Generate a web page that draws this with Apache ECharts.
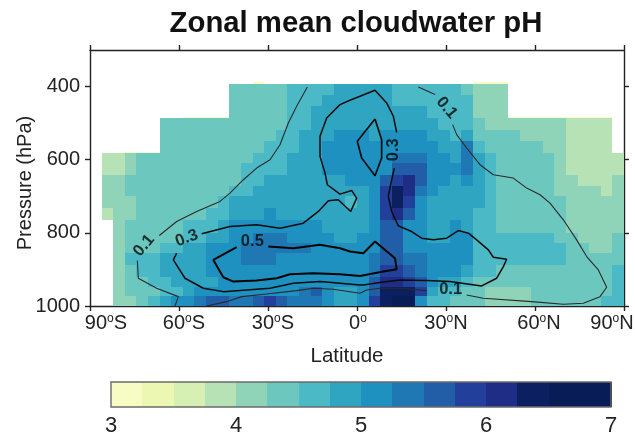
<!DOCTYPE html>
<html>
<head>
<meta charset="utf-8">
<style>html,body{margin:0;padding:0;background:#fff}#c{width:635px;height:441px;filter:blur(0.4px)}</style>
<script src="https://cdn.jsdelivr.net/npm/echarts@6/dist/echarts.min.js"></script>
</head>
<body>
<div id="c"></div>
<script>
const FONT = '"Liberation Sans", Arial, sans-serif';
const colorLevels = ['#f7fcc4','#ecf7b2','#d6efb3','#b6e2b6','#8fd3b9','#6cc7be','#4bb9c6','#30a5c2','#1e91c0','#1f78b4','#225ea8','#233f9c','#1f2d86','#0c1f60','#081d58','#081d58'];
const colorBounds = [3,3.25,3.5,3.75,4,4.25,4.5,4.75,5,5.25,5.5,5.75,6,6.25,6.5,6.75,7];
const columnCount = 46;
const pressureEdges = [1000,974,947,920,888,856,828,801,764,732,700,673,641,609,582,550,518,486,454,422,392];
const xTicks = [-90,-60,-30,0,30,60,90];
const yTicks = [400,600,800,1000];
const barTicks = [3,4,5,6,7];
const n = null;
// zonal mean cloudwater pH, one list per latitude column, from the lowest layer upward
const phColumns = [
[],
[n,n,n,n,n,n,n,n,3.9,4.1,4.1,4.1,3.9,3.9],
[4.1,4.1,4.1,4.1,4.1,4.1,4.1,4.1,4.1,4.1,4.1,4.1,3.9,3.9],
[4.1,4.4,4.4,4.4,4.6,4.4,4.4,4.4,4.1,4.1,4.4,4.4,4.1,4.1],
[4.4,4.4,4.4,4.6,4.6,4.4,4.4,4.4,4.4,4.4,4.4,4.4,4.4,4.4],
[4.6,4.4,4.6,4.6,4.6,4.4,4.4,4.4,4.4,4.4,4.4,4.4,4.4,4.4],
[4.9,4.6,4.6,4.9,4.9,4.6,4.4,4.4,4.4,4.4,4.4,4.4,4.4,4.4,4.4,4.4,4.4],
[5.1,4.6,4.9,4.9,4.9,4.6,4.4,4.4,4.4,4.4,4.4,4.4,4.4,4.4,4.4,4.4,4.4],
[5.1,4.9,4.9,4.9,4.9,4.9,4.6,4.6,4.4,4.4,4.4,4.4,4.4,4.4,4.4,4.4,4.4],
[5.4,5.1,4.9,4.9,4.9,4.9,4.6,4.6,4.4,4.4,4.4,4.4,4.4,4.4,4.4,4.4,4.4],
[5.6,5.1,4.9,5.1,5.1,5.1,4.9,4.6,4.6,4.4,4.4,4.4,4.4,4.4,4.4,4.4,4.4],
[5.6,5.1,5.1,5.1,5.1,5.1,4.9,4.9,4.6,4.6,4.4,4.4,4.4,4.4,4.4,4.4,4.4],
[5.4,5.1,5.1,5.1,5.1,5.1,5.1,5.1,4.9,4.9,4.6,4.4,4.4,4.4,4.4,4.4,4.4,4.4,4.4,4.4],
[5.4,5.1,5.1,5.1,5.4,5.4,5.1,5.1,4.9,4.9,4.6,4.6,4.6,4.4,4.4,4.4,4.4,4.4,4.4,4.4],
[5.6,5.1,5.1,5.1,5.4,5.4,5.4,5.1,4.9,4.9,4.9,4.6,4.6,4.6,4.4,4.4,4.4,4.4,4.4,4.4],
[5.9,5.1,5.1,5.1,5.4,5.4,5.4,5.1,5.1,4.9,4.9,4.9,4.6,4.6,4.6,4.4,4.4,4.4,4.4,4.4],
[5.6,5.1,5.1,5.1,5.1,5.4,5.4,5.1,4.9,4.9,4.9,4.9,4.6,4.6,4.6,4.6,4.4,4.4,4.4,4.4],
[5.4,5.1,5.1,5.1,5.1,5.4,5.1,5.1,4.9,4.9,4.9,4.9,4.9,4.9,4.6,4.6,4.6,4.6,4.6,4.6],
[5.4,5.4,5.1,5.1,5.1,5.4,5.1,5.1,4.9,4.9,4.9,4.9,4.9,4.9,4.9,4.9,4.6,4.6,4.6,4.6],
[5.4,5.6,5.1,5.1,5.1,5.1,5.1,5.1,4.9,4.9,4.9,4.9,4.9,4.9,4.9,4.9,4.9,4.9,4.6,4.6],
[5.1,5.1,5.1,5.1,5.1,5.1,5.1,4.9,4.9,4.9,4.9,4.9,5.1,5.1,5.1,4.9,4.9,4.9,4.9,4.6],
[4.9,4.9,5.1,5.1,5.1,5.1,4.9,4.9,4.9,4.9,4.9,4.9,5.1,5.1,5.1,5.1,4.9,4.9,4.9,4.9],
[4.9,4.9,5.1,5.1,5.1,5.1,4.9,4.9,4.9,4.6,4.9,5.1,5.1,5.1,5.1,5.1,4.9,4.9,4.9,4.9],
[5.1,5.1,5.1,5.1,5.1,5.1,5.1,4.9,4.9,4.9,4.9,5.1,5.1,5.1,5.1,5.1,4.9,4.9,4.9,4.9],
[5.9,5.6,5.6,5.4,5.4,5.1,5.1,5.1,5.1,5.1,5.1,5.1,5.1,5.1,5.1,4.9,4.9,4.9,4.9,4.9],
[6.4,6.4,6.1,5.9,5.6,5.6,5.6,5.6,5.9,5.9,5.9,5.6,5.1,5.1,5.1,5.1,4.9,4.9,4.9,4.9],
[6.6,6.4,6.1,5.9,5.6,5.6,5.6,5.6,6.1,6.4,6.4,5.9,5.6,5.4,5.1,5.1,4.9,4.9,4.6,4.6],
[6.6,6.4,5.9,5.6,5.4,5.1,5.1,5.1,5.6,5.9,6.1,6.1,5.6,5.4,5.1,5.1,4.9,4.9,4.6,4.6],
[5.1,5.9,5.6,5.4,5.4,5.1,5.1,5.1,5.1,5.1,5.4,5.6,5.6,5.4,5.1,5.1,4.9,4.9,4.6,4.6],
[4.6,4.9,5.1,5.1,5.1,5.1,4.9,4.9,4.9,4.9,5.1,5.1,5.1,5.1,5.1,4.9,4.9,4.6,4.6,4.6],
[4.6,4.6,4.9,5.1,5.1,5.1,4.9,4.9,4.9,4.9,4.9,5.1,5.1,5.1,4.9,4.9,4.6,4.6,4.6,4.6],
[4.4,4.6,4.9,5.1,5.1,5.1,5.1,5.1,4.9,4.9,4.9,4.9,5.1,4.9,4.9,4.6,4.6,4.6,4.6,4.6],
[4.4,4.4,4.6,4.9,5.1,5.1,5.1,4.9,4.9,4.9,4.9,5.1,5.4,5.4,5.4,4.9,4.6,4.6,4.6,4.4],
[4.4,4.4,4.4,4.6,4.6,4.6,4.6,4.6,4.6,4.9,4.9,4.9,4.9,4.9,4.6,4.4,4.4,4.1,4.1,4.1],
[4.1,4.1,4.4,4.6,4.6,4.6,4.6,4.6,4.6,4.6,4.6,4.6,4.6,4.6,4.4,4.4,4.1,4.1,4.1,4.1],
[4.1,4.1,4.4,4.4,4.6,4.6,4.6,4.4,4.4,4.4,4.4,4.4,4.4,4.4,4.4,4.4,4.1,4.1,4.1,4.1],
[4.1,4.1,4.4,4.4,4.6,4.6,4.6,4.4,4.4,4.4,4.4,4.4,4.4,4.4,4.4,4.4,4.1],
[4.1,4.1,4.4,4.4,4.6,4.6,4.6,4.4,4.4,4.4,4.4,4.4,4.4,4.4,4.4,4.1,4.1],
[4.4,4.4,4.4,4.4,4.6,4.6,4.6,4.4,4.4,4.4,4.4,4.4,4.4,4.4,4.4,4.1,4.1],
[4.4,4.4,4.4,4.4,4.6,4.6,4.6,4.4,4.4,4.4,4.4,4.4,4.4,4.4,4.1,4.1,4.1],
[4.4,4.4,4.4,4.4,4.6,4.6,4.4,4.4,4.4,4.4,4.1,4.1,4.1,4.1,4.1,4.1,4.1],
[4.4,4.4,4.4,4.4,4.4,4.4,4.4,4.1,4.1,4.1,4.1,4.1,3.9,3.9,3.9,3.9,3.9],
[4.4,4.4,4.4,4.4,4.4,4.4,4.1,4.1,4.1,4.1,4.1,3.9,3.9,3.9,3.9,3.9,3.9],
[4.4,4.4,4.4,4.4,4.4,4.1,4.1,4.1,4.1,4.1,4.1,3.9,3.9,3.9,3.9,3.9,3.9],
[4.6,4.4,4.4,4.4,4.4,4.1,4.1,4.1,4.1,4.1,3.9,3.9,3.9,3.9,3.9,3.9,3.9],
[4.6,4.6,4.6,4.6,4.4,4.4,4.4,4.1,4.1,4.1,4.1,4.1,3.9,3.9]
];
// thin pale layers on top of some columns: [column, pH]
const paleTopCells = [[3,3.1],[4,3.1],[5,3.1],[8,3.1],[9,3.1],[10,3.1],[11,3.1],[14,3.1],[33,3.1],[34,3.1],[35,3.1],[36,3.1],[37,3.1],[38,3.1],[39,3.1],[40,3.1],[41,3.1],[42,3.1],[43,3.1],[44,3.1]];
// contour lines as [latitude, pressure] pairs
const contour01a = [[-16.74,400.9],[-20.34,453.8],[-23.15,499.5],[-25.95,558.9],[-29.32,600],[-33.82,622.8],[-38.31,654.7],[-42.81,691.3],[-46.18,714.1],[-54.04,741.5],[-60.79,768.9],[-66.63,807.3]];
const contour01b = [[-74.04,875.7],[-73.71,924.1],[-67.53,951.5],[-60.22,974.4],[-61.35,1000]];
const contour01c = [[-50.67,1000],[-43.93,988.1],[-38.88,974.4],[-30.45,967.1],[-20.34,958],[-14.72,951.5],[-7.98,954.3],[1.01,965.2],[3.26,956.1],[7.75,951.5],[14.49,951.5],[23.48,958]];
const contour01d = [[36.97,969.8],[42.58,978.9],[58.88,988.1],[69.55,995.4],[76.29,992.6],[81.91,974.4],[84.16,948.8],[81.35,901.3],[77.42,864.8],[74.04,819.1],[69.55,764.3],[65.06,718.7],[61.69,695.8],[57.19,677.6],[52.7,650.2],[45.95,641],[41.46,613.6],[36.97,568],[33.6,531.5],[32.25,504.1]];
const contour01e = [[26.29,421.9],[20.67,400.9]];
const contour03a = [[-60.79,855.6],[-61.91,873.9],[-57.98,924.1],[-51.8,951.5],[-45.06,960.7],[-37.19,956.1],[-29.32,951.5],[-21.46,937.8],[-12.47,933.3],[1.01,942.4],[2.13,942.4],[7.75,936],[14.49,928.7],[23.48,930.5],[31.35,933.3],[42.02,945.1],[47.08,924.1],[49.33,892.2],[50.45,872.1],[45.95,866.6],[44.27,846.5],[40.34,819.1],[37.53,800.9],[34.16,793.6],[30.22,814.6],[25.73,819.1],[21.8,814.6],[18.43,796.3],[13.93,780.8],[11.69,741.5],[10.56,700.4],[11.69,654.7],[12.58,622.8]];
const contour03b = [[13.37,525],[12.25,481.2],[10,444.7],[6.07,410],[-2.36,437.4],[-5.73,449.3],[-10.22,485.8],[-12.47,536],[-12.47,590.8],[-10.78,636.5],[-10,668.4],[-5.73,694],[-1.8,684],[-0.11,705],[-2.13,741.5],[-6.29,709.5],[-9.66,712.3],[-13.03,741.5],[-18.09,773.5],[-25.95,787.2],[-33.82,778],[-42.81,782.6],[-52.36,802.7]];
const contour03c = [[6.07,488.5],[0.11,549.7],[1.57,595.4],[6.07,643.8],[8.31,595.4],[8.31,545.2],[6.07,488.5]];
const contour05 = [[-40.56,839.2],[-48.43,873.9],[-45.06,921.4],[-41.68,933.3],[-33.82,930.5],[-27.08,924.1],[-22.58,913.2],[-14.72,910.4],[-5.73,913.2],[1.01,917.7],[8.88,905.9],[13.37,899.5],[12.81,869.3],[6.07,823.7],[2.13,855.6],[-2.36,851.1],[-5.73,842],[-12.47,832.8],[-21.46,842],[-29.89,837.4]];
const contourLabels = [
  {value:[-71.8,834.6], name:'0.1', rot:50},
  {value:[-57.41,814.6], name:'0.3', rot:20},
  {value:[-35.28,823.7], name:'0.5', rot:0},
  {value:[12.25,572.6], name:'0.3', rot:90},
  {value:[30.22,458.4], name:'0.1', rot:-50},
  {value:[31.57,956], name:'0.1', rot:0}
];

const cells = [];
const latEdge = i => -90 + i * 180 / columnCount;
phColumns.forEach((col, i) => col.forEach((ph, r) => {
  if (ph === null) return;
  cells.push([latEdge(i), latEdge(i + 1), pressureEdges[r + 1], pressureEdges[r], ph]);
}));
paleTopCells.forEach(([i, ph]) => {
  const top = pressureEdges[phColumns[i].length];
  cells.push([latEdge(i), latEdge(i + 1), top - 4, top, ph]);
});
const colorOf = ph => colorLevels[Math.min(15, Math.floor((ph - 3) / 0.25))];
const barData = colorLevels.map((c, i) => [colorBounds[i], colorBounds[i + 1]]);

const rectItem = (x0, x1, y0, y1, fill, params, api) => {
  const a = api.coord([x0, y0]), b = api.coord([x1, y1]);
  const l = Math.round(a[0]), r = Math.round(b[0]), t = Math.round(Math.min(a[1], b[1])), u = Math.round(Math.max(a[1], b[1]));
  return {type:'rect', shape:{x:l, y:t, width:r - l, height:u - t}, style:{fill}};
};
const contourSeries = (data, width, color) => ({
  type:'line', xAxisIndex:0, yAxisIndex:0, data, symbol:'none', silent:true, z:5,
  lineStyle:{color, width}, animation:false, clip:true
});
// spacer width before or after each bottom label: the labels sit slightly inward of their ticks
const xLabelShift = {'-90':32, '-60':10, '-30':10, '0':2, '30':0, '60':8, '90':-24};
const hemi = v => {
  const text = v < 0 ? `${-v}{o|o}S` : v > 0 ? `${v}{o|o}N` : '0{o|o}';
  const s = xLabelShift[String(v)] || 0;
  const key = 's' + Math.abs(s);
  return s > 0 ? `{${key}| }${text}` : s < 0 ? `${text}{${key}| }` : text;
};
const axisLine = {show:true, onZero:false, lineStyle:{color:'#222', width:1.4}};
const tick = {show:true, length:5, lineStyle:{color:'#222', width:1.4}};
const labelRich = {
  o:{fontSize:12, fontFamily:FONT, color:'#222', verticalAlign:'top', lineHeight:20},
  s32:{width:32, fontSize:6}, s24:{width:24, fontSize:6}, s10:{width:10, fontSize:6}, s8:{width:8, fontSize:6}, s2:{width:2, fontSize:6}
};

const chart = echarts.init(document.getElementById('c'), null, {renderer:'canvas'});
chart.setOption({
  animation:false,
  backgroundColor:'#fff',
  title:{text:'Zonal mean cloudwater pH', left:351, top:4, textAlign:'center',
    textStyle:{fontFamily:FONT, fontWeight:'bold', fontSize:29.3, color:'#111'}},
  grid:[
    {left:90, top:50, width:534, height:256, containLabel:false, outerBoundsMode:'none'},
    {left:111, top:382, width:500, height:25, containLabel:false, outerBoundsMode:'none'}
  ],
  xAxis:[
    {type:'value', gridIndex:0, position:'bottom', min:-90, max:90, interval:30,
     name:'Latitude', nameLocation:'center', nameGap:40,
     nameTextStyle:{fontFamily:FONT, fontSize:20.5, color:'#222', padding:[0,20,0,0]},
     axisLine, axisTick:tick, splitLine:{show:false},
     axisLabel:{formatter:hemi, fontFamily:FONT, fontSize:20, color:'#222', margin:7, rich:labelRich, showMinLabel:true, showMaxLabel:true, hideOverlap:false}},
    {type:'value', gridIndex:0, position:'top', min:-90, max:90, interval:30,
     axisLine, axisTick:tick, axisLabel:{show:false}, splitLine:{show:false}},
    {type:'value', gridIndex:1, position:'bottom', min:3, max:7, interval:1,
     axisLine:{show:false}, axisTick:{show:false}, splitLine:{show:false},
     axisLabel:{fontFamily:FONT, fontSize:22, color:'#222', margin:8}},
    {type:'value', gridIndex:1, position:'top', min:3, max:7, interval:1,
     axisLine:{show:false}, axisLabel:{show:false}, splitLine:{show:false},
     axisTick:{show:true, inside:true, length:25, lineStyle:{color:'#111', width:1}}}
  ],
  yAxis:[
    {type:'value', gridIndex:0, position:'left', inverse:true, min:300, max:1000,
     name:'Pressure (hPa)', nameLocation:'center', nameGap:55, nameRotate:90, nameMoveOverlap:false,
     nameTextStyle:{fontFamily:FONT, fontSize:20, color:'#222', padding:[0,10,0,0]},
     axisLine, axisTick:{...tick, customValues:yTicks}, splitLine:{show:false},
     axisLabel:{customValues:yTicks, formatter:v => String(v), fontFamily:FONT, fontSize:20, color:'#222', margin:10}},
    {type:'value', gridIndex:0, position:'right', inverse:true, min:300, max:1000,
     axisLine, axisTick:{...tick, customValues:yTicks}, splitLine:{show:false},
     axisLabel:{show:false}},
    {type:'value', gridIndex:1, min:0, max:1, show:false}
  ],
  series:[
    {type:'custom', xAxisIndex:0, yAxisIndex:0, data:cells, silent:true, z:2, clip:true,
     renderItem:(p, api) => rectItem(api.value(0), api.value(1), api.value(2), api.value(3), colorOf(api.value(4)), p, api)},
    contourSeries(contour01a, 1.1, '#2a2a2a'),
    contourSeries(contour01b, 1.1, '#2a2a2a'),
    contourSeries(contour01c, 1.1, '#2a2a2a'),
    contourSeries(contour01d, 1.1, '#2a2a2a'),
    contourSeries(contour01e, 1.1, '#2a2a2a'),
    contourSeries(contour03a, 1.5, '#0c0c0c'),
    contourSeries(contour03b, 1.5, '#0c0c0c'),
    contourSeries(contour03c, 1.7, '#0c0c0c'),
    contourSeries(contour05, 2, '#050505'),
    {type:'scatter', xAxisIndex:0, yAxisIndex:0, symbolSize:1, itemStyle:{color:'rgba(0,0,0,0)'}, silent:true, z:6,
     data:contourLabels.map(d => ({value:d.value, name:d.name,
       label:{show:true, position:'inside', formatter:d.name, rotate:d.rot, fontFamily:FONT, fontWeight:'bold', fontSize:16.5, color:'#0a0a0a'}}))},
    {type:'custom', xAxisIndex:2, yAxisIndex:2, data:barData, silent:true, z:2,
     renderItem:(p, api) => rectItem(api.value(0), api.value(1), 0, 1, colorLevels[p.dataIndex], p, api)}
  ],
  graphic:[{type:'rect', shape:{x:111, y:382, width:500, height:25}, style:{fill:'none', stroke:'#6b6b6b', lineWidth:1.4}, z:20, silent:true}]
});
</script>
</body>
</html>
